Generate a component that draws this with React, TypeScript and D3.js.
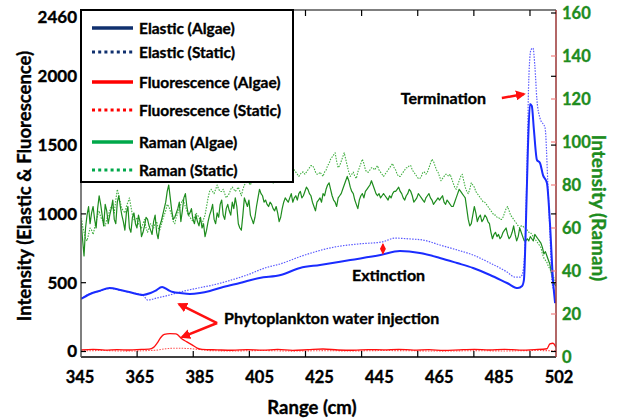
import React from "react";
import * as d3 from "d3";

// ---------------- DATA ----------------
const ramanRange = d3.range(0, 315).map((i) => 345 + i * 0.5); // 0.5 cm sampling, 345..502

const ramanAlgae = [
  64, 55, 47, 60, 66, 70, 62, 67, 70, 64, 60, 69, 75, 71, 66, 61, 71, 68, 62, 66,
  69, 73, 64, 62, 72, 75, 70, 66, 63, 59, 67, 70, 60, 58, 65, 67, 62, 60, 66, 63,
  56, 58, 61, 65, 64, 61, 59, 57, 63, 66, 58, 55, 61, 63, 66, 69, 72, 77, 80, 74,
  68, 64, 65, 67, 69, 72, 63, 68, 74, 76, 70, 66, 67, 69, 64, 62, 66, 63, 61, 65,
  60, 62, 56, 59, 63, 66, 68, 71, 64, 62, 67, 65, 71, 73, 66, 64, 69, 71, 68, 66,
  72, 69, 74, 70, 62, 60, 59, 66, 74, 72, 70, 73, 66, 64, 62, 65, 70, 74, 78, 76,
  75, 72, 73, 71, 70, 72, 71, 69, 68, 70, 67, 63, 65, 69, 72, 74, 73, 72, 74, 76,
  72, 74, 75, 73, 76, 77, 74, 75, 77, 79, 78, 76, 75, 72, 70, 68, 72, 73, 74, 72,
  76, 75, 78, 80, 81, 78, 75, 73, 72, 70, 74, 75, 76, 78, 80, 82, 84, 82, 79, 77,
  76, 73, 71, 69, 73, 75, 76, 74, 77, 78, 79, 80, 82, 80, 78, 76, 75, 76, 74, 75,
  76, 75, 74, 73, 75, 74, 76, 77, 77, 78, 79, 77, 76, 74, 73, 75, 76, 78, 77, 75,
  72, 73, 74, 76, 75, 74, 73, 72, 74, 75, 76, 74, 73, 71, 72, 73, 74, 73, 74, 75,
  72, 71, 73, 72, 71, 70, 70, 72, 74, 76, 78, 77, 76, 75, 74, 69, 64, 61, 62, 66,
  70, 67, 63, 65, 66, 63, 64, 66, 65, 63, 62, 58, 55, 57, 58, 56, 57, 55, 56, 58,
  59, 60, 57, 55, 56, 58, 61, 57, 54, 56, 60, 58, 56, 54, 54, 55, 54, 56, 55, 54,
  57, 56, 55, 54, 53, 51, 48, 49, 47, 45, 43, 39, 35, 34, 33,
];

const ramanStatic = [
  66, 61, 58, 55, 54, 57, 60, 59, 57, 60, 63, 66, 68, 65, 64, 62, 61, 64, 66, 68,
  70, 69, 67, 73, 78, 75, 72, 69, 68, 67, 70, 72, 74, 70, 66, 64, 63, 65, 62, 61,
  60, 62, 64, 60, 58, 60, 62, 61, 60, 62, 63, 60, 59, 61, 64, 66, 68, 71, 70, 68,
  66, 63, 62, 65, 67, 69, 71, 73, 72, 70, 68, 66, 65, 64, 63, 65, 67, 66, 65, 63,
  62, 64, 66, 70, 74, 77, 78, 77, 76, 78, 80, 78, 77, 77, 78, 76, 74, 75, 76, 78,
  79, 78, 77, 78, 79, 77, 75, 78, 80, 81, 82, 81, 80, 82, 84, 83, 81, 83, 85, 86,
  86, 84, 83, 84, 84, 83, 82, 81, 81, 83, 84, 85, 86, 86, 85, 84, 83, 85, 87, 88,
  88, 87, 86, 85, 84, 85, 86, 86, 85, 86, 87, 88, 89, 89, 88, 86, 85, 85, 86, 85,
  84, 86, 87, 89, 90, 92, 93, 94, 95, 91, 88, 89, 91, 93, 95, 92, 89, 86, 84, 85,
  86, 84, 83, 86, 88, 90, 92, 90, 87, 86, 86, 87, 88, 88, 87, 88, 89, 87, 86, 85,
  84, 85, 86, 87, 88, 89, 90, 88, 87, 85, 84, 84, 85, 86, 87, 88, 88, 89, 89, 87,
  86, 85, 84, 83, 83, 84, 86, 86, 85, 86, 88, 90, 92, 91, 89, 87, 86, 84, 82, 83,
  84, 85, 85, 84, 85, 83, 81, 79, 78, 80, 82, 84, 85, 82, 79, 77, 76, 78, 81, 80,
  79, 77, 76, 75, 74, 73, 72, 72, 71, 70, 69, 68, 67, 66, 66, 65, 65, 64, 64, 65,
  67, 69, 70, 68, 66, 65, 64, 63, 62, 61, 60, 61, 61, 60, 60, 59, 58, 58, 57, 56,
  55, 54, 53, 52, 51, 48, 46, 45, 44, 42, 41, 39, 38, 36, 35,
];

const elasticAlgaeRange = [
  345, 348, 351, 354.5, 358, 361, 365.5, 368, 369.5, 371.8, 373.8, 375.4, 377.7,
  381, 384.3, 387.6, 392, 397.5, 404, 411, 417.4, 424, 434, 444, 450.4, 457,
  463.6, 469.3, 474.6, 480.2, 485.8, 489.4, 490.8, 491.4, 492, 492.7, 493.4, 494,
  494.7, 495.7, 496.7, 497.7, 499, 500, 501, 501.7,
];
const elasticAlgae = [
  382, 418, 440, 461, 447, 432, 411, 425, 440, 469, 447, 432, 425,
  418, 425, 440, 469, 498, 534, 556, 607, 629, 665, 701, 730, 716,
  680, 643, 607, 556, 498, 461, 476, 520, 883, 1464, 1799, 1785,
  1610, 1392, 1370, 1282, 1224, 933, 520, 352,
];

const elasticStaticRange = [
  345, 348, 351, 354.5, 358, 361, 365.5, 367.1, 370.1, 374.4, 377.7, 383, 388.6,
  394, 399.9, 405.8, 410.8, 418, 429, 437, 444.5, 448.8, 453.7, 458, 463.6, 469.3,
  474.6, 480.2, 485.8, 488.4, 490.1, 490.8, 491.7, 492.4, 493, 493.7, 494.4, 495,
  495.7, 496.7, 498.4, 499.3, 500, 500.7, 501.7,
];
const elasticStatic = [
  385, 420, 438, 458, 445, 430, 408, 374, 389, 411, 432, 458, 483,
  515, 556, 607, 636, 694, 760, 782, 796, 824, 818, 810, 774, 738,
  701, 643, 578, 541, 541, 556, 738, 1319, 1973, 2191, 2205, 2078,
  1828, 1697, 1623, 1224, 861, 498, 432,
];

const fluorAlgaeRange = [
  345, 349, 353, 357, 361, 365, 367.5, 369, 370.2, 371.3, 372.5, 374.4, 376.4,
  378.4, 380, 381.7, 383.4, 385, 390, 395, 400, 405, 410, 415, 420, 425, 430,
  435, 440, 445, 450, 455, 460, 465, 470, 475, 480, 485, 490, 495, 499, 500, 501,
  502,
];
const fluorAlgae = [
  12, 16, 10, 14, 11, 15, 17, 30, 62, 100, 124, 130, 128,
  91, 70, 48, 25, 16, 12, 9, 14, 10, 15, 8, 13, 18, 11,
  9, 14, 12, 16, 10, 13, 8, 12, 15, 11, 16, 10, 14, 20, 55, 60,
  30,
];

const fluorStaticRange = [
  345, 352, 360, 366, 370, 373, 376, 380, 384, 388, 395, 405, 415, 425, 435,
  445, 455, 465, 475, 485, 495, 502,
];
const fluorStatic = [
  4, 7, 3, 6, 10, 20, 24, 22, 15, 6, 4, 7, 3, 6, 4,
  7, 5, 3, 6, 4, 7, 5,
];

const leftTicks = [0, 500, 1000, 1500, 2000, 2460];
const rightTicks = [0, 20, 40, 60, 80, 100, 120, 140, 160];
const xTickLabels = ["345", "365", "385", "405", "425", "445", "465", "485", "502"];
const xTickMarks = [363.55, 382.1, 400.65, 419.2, 437.75, 456.3, 474.85, 493.4];

const legendItems = [
  { label: "Elastic (Algae)", color: "#10306e", dashed: false },
  { label: "Elastic (Static)", color: "#10306e", dashed: true },
  { label: "Fluorescence (Algae)", color: "#ff0000", dashed: false },
  { label: "Fluorescence (Static)", color: "#ff0000", dashed: true },
  { label: "Raman (Algae)", color: "#00a84a", dashed: false },
  { label: "Raman (Static)", color: "#00a84a", dashed: true },
];
const legendRows = [28, 52, 82, 110, 142, 170];

// ---------------- LAYOUT ----------------
const W = 618;
const H = 420;
const X0 = 81;
const X1 = 556;
const YTOP = 10;
const YBOT = 357;
const FONT = "Lato, 'Open Sans', sans-serif";

const x = d3.scaleLinear().domain([345, 502]).range([X0, X1]);
const yL = d3.scaleLinear().domain([-40, 2460]).range([YBOT, 13]);
const yR = d3.scaleLinear().domain([0, 160]).range([YBOT, 13]);
const xLabelPos = d3.scaleLinear().domain([0, xTickLabels.length - 1]).range([80, 559]);

function pathOf(
  xs: number[],
  ys: number[],
  yScale: d3.ScaleLinear<number, number>,
  curve: d3.CurveFactory = d3.curveLinear
) {
  const pts: [number, number][] = xs.map((v, i) => [v, ys[i]]);
  return d3
    .line<[number, number]>()
    .x((d) => x(d[0]))
    .y((d) => yScale(d[1]))
    .curve(curve)(pts) as string;
}

export default function App() {
  const ramanStaticPath = pathOf(ramanRange, ramanStatic, yR);
  const ramanAlgaePath = pathOf(ramanRange, ramanAlgae, yR);
  const elStaticPath = pathOf(elasticStaticRange, elasticStatic, yL, d3.curveMonotoneX);
  const elAlgaePath = pathOf(elasticAlgaeRange, elasticAlgae, yL, d3.curveMonotoneX);
  const flStaticPath = pathOf(fluorStaticRange, fluorStatic, yL, d3.curveMonotoneX);
  const flAlgaePath = pathOf(fluorAlgaeRange, fluorAlgae, yL, d3.curveMonotoneX);

  const red = "#ff1010";
  const green = "#1e8c1e";
  const thick = { stroke: "currentColor", strokeWidth: 0.35 } as const;

  return (
    <svg
      width={W}
      height={H}
      viewBox={`0 0 ${W} ${H}`}
      style={{ position: "absolute", left: 0, top: 0, background: "#fff" }}
      fontFamily={FONT}
      fontWeight={700}
    >
      <defs>
        <marker id="ah" viewBox="0 0 10 10" refX="8" refY="5" markerWidth="4" markerHeight="4" orient="auto-start-reverse">
          <path d="M0,0 L10,5 L0,10 z" fill={red} />
        </marker>
        <marker id="ahs" viewBox="0 0 10 10" refX="8" refY="5" markerWidth="5" markerHeight="5" orient="auto-start-reverse">
          <path d="M0,0 L10,5 L0,10 z" fill={red} />
        </marker>
        <clipPath id="plotclip">
          <rect x={X0} y={YTOP} width={X1 - X0} height={YBOT - YTOP} />
        </clipPath>
      </defs>

      <rect x={0} y={0} width={W} height={H} fill="#fff" />

      {/* data */}
      <g clipPath="url(#plotclip)" fill="none" strokeLinejoin="round">
        <path d={ramanStaticPath} stroke="#3fae3f" strokeWidth={1.1} strokeDasharray="1.5,1.3" />
        <path d={ramanAlgaePath} stroke={green} strokeWidth={1.2} />
        <path d={elStaticPath} stroke="#5a5aff" strokeWidth={1.2} strokeDasharray="1.5,1.3" />
        <path d={elAlgaePath} stroke="#1a2cff" strokeWidth={2} />
        <path d={flStaticPath} stroke="#ff5050" strokeWidth={1.1} strokeDasharray="1.5,1.3" />
        <path d={flAlgaePath} stroke={red} strokeWidth={1.3} />
      </g>

      {/* frame */}
      <line x1={X0} x2={X1} y1={YTOP} y2={YTOP} stroke="#000" strokeWidth={1.2} />
      <line x1={X0} x2={X1} y1={YBOT} y2={YBOT} stroke="#000" strokeWidth={1.5} />
      <line x1={X0} x2={X0} y1={YTOP} y2={YBOT} stroke="#555" strokeWidth={1.5} />
      <line x1={X1} x2={X1} y1={YTOP} y2={YBOT} stroke="#9a3434" strokeWidth={1.5} />

      {/* x ticks */}
      {xTickMarks.map((t) => (
        <g key={"xt" + t}>
          <line x1={x(t)} x2={x(t)} y1={YBOT} y2={YBOT - 6} stroke="#000" strokeWidth={1.2} />
          <line x1={x(t)} x2={x(t)} y1={YTOP} y2={YTOP + 6} stroke="#000" strokeWidth={1.2} />
        </g>
      ))}
      <g style={{ color: "#000" }} fill="#000" {...thick}>
        {xTickLabels.map((s, i) => (
          <text key={"xl" + s} x={xLabelPos(i)} y={383} textAnchor="middle" fontSize={16.5}>
            {s}
          </text>
        ))}
      </g>

      {/* left ticks */}
      {leftTicks.map((t) => (
        <g key={"lt" + t}>
          <line x1={X0} x2={X0 + 5} y1={yL(t)} y2={yL(t)} stroke="#000" strokeWidth={1.2} />
          <line x1={X1} x2={X1 - 5} y1={yL(t)} y2={yL(t)} stroke="#000" strokeWidth={1.2} />
          <text
            x={77} y={yL(t) + (t === 2460 ? 10 : 6)} textAnchor="end" fontSize={17}
            fill="#000" style={{ color: "#000" }} {...thick}
          >
            {t}
          </text>
        </g>
      ))}

      {/* right ticks */}
      {rightTicks.map((t) => (
        <g key={"rt" + t}>
          {t > 0 && t < 160 && (
            <line x1={X1} x2={X1 - 5} y1={yR(t)} y2={yR(t)} stroke="#f08080" strokeWidth={1.2} />
          )}
          <text
            x={562} y={yR(t) + 6} textAnchor="start" fontSize={16.5}
            fill={green} style={{ color: green }} {...thick}
          >
            {t}
          </text>
        </g>
      ))}

      {/* axis titles */}
      <g style={{ color: "#000" }} fill="#000" {...thick}>
        <text transform={`translate(31,186) rotate(-90)`} textAnchor="middle" fontSize={18.5}>
          Intensity (Elastic &amp; Fluorescence)
        </text>
        <text x={312} y={414} textAnchor="middle" fontSize={18.5}>
          Range (cm)
        </text>
        <text x={486} y={104} textAnchor="end" fontSize={16}>Termination</text>
        <text x={352} y={281} textAnchor="start" fontSize={16}>Extinction</text>
        <text x={224} y={324} textAnchor="start" fontSize={16}>Phytoplankton water injection</text>
      </g>
      <text
        transform={`translate(592,208) rotate(90)`} textAnchor="middle" fontSize={19}
        fill={green} style={{ color: green }} {...thick}
      >
        Intensity (Raman)
      </text>

      {/* annotation arrows */}
      <line
        x1={x(484.1)} y1={yL(1842)} x2={x(491.4)} y2={yL(1871)}
        stroke={red} strokeWidth={2.5} markerEnd="url(#ah)"
      />
      <line
        x1={x(444.8)} y1={yL(780)} x2={x(444.8)} y2={yL(712)}
        stroke={red} strokeWidth={1.2} markerStart="url(#ahs)" markerEnd="url(#ahs)"
      />
      <line
        x1={x(390)} y1={yL(207)} x2={x(377.4)} y2={yL(345)}
        stroke={red} strokeWidth={2.5} markerEnd="url(#ah)"
      />
      <line
        x1={x(390)} y1={yL(207)} x2={x(378.4)} y2={yL(105)}
        stroke={red} strokeWidth={2.5} markerEnd="url(#ah)"
      />

      {/* legend */}
      <rect x={X0} y={10} width={212} height={172} fill="#fff" stroke="#000" strokeWidth={2} />
      {legendItems.map((it, i) => (
        <g key={it.label}>
          <line
            x1={92} x2={133} y1={legendRows[i]} y2={legendRows[i]}
            stroke={it.color}
            strokeWidth={it.dashed ? 3 : 3.5}
            strokeDasharray={it.dashed ? "3,3.2" : undefined}
          />
          <text
            x={139} y={legendRows[i] + 5.5} fontSize={15.5}
            fill="#000" style={{ color: "#000" }} {...thick}
          >
            {it.label}
          </text>
        </g>
      ))}
    </svg>
  );
}
